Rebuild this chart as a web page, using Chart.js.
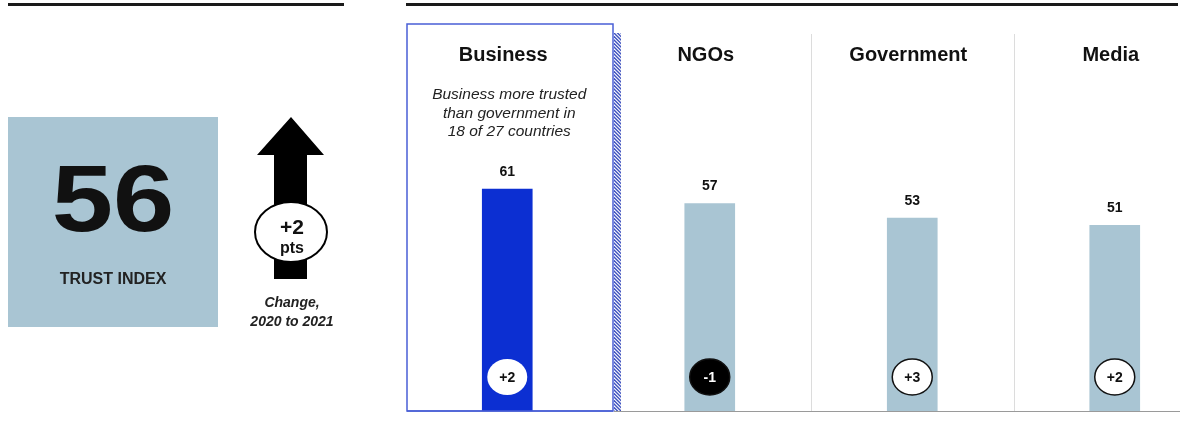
<!DOCTYPE html>
<html>
<head>
<meta charset="utf-8">
<script src="https://cdn.jsdelivr.net/npm/chart.js@4"></script>
<style>
  html, body { margin: 0; padding: 0; background: #fff; overflow: hidden; }
  #wrap { width: 1230px; height: 427px; }
</style>
</head>
<body>
<div id="wrap"><canvas id="trustChart" width="1230" height="427"></canvas></div>
<script>
const institutions = ["Business", "NGOs", "Government", "Media"];
const trustScores = [61, 57, 53, 51];
const changes = [2, -1, 3, 2];
const trustIndex = 56;
const indexChange = 2;
const noteLines = ["Business more trusted", "than government in", "18 of 27 countries"];
const changeCaption = ["Change,", "2020 to 2021"];
const highlight = "Business";

const LIGHT_BLUE = "#a9c5d3";
const DARK_BLUE = "#0c2fd2";
const FONT = "'Liberation Sans', Arial, sans-serif";

const ctx = document.getElementById("trustChart").getContext("2d");

function signed(v) {
  return (v > 0 ? "+" : "") + v;
}

function ellipse(c, x, y, rx, ry) {
  c.beginPath();
  c.ellipse(x, y, rx, ry, 0, 0, Math.PI * 2);
}

// left block, header rules, panel frames and titles
const backdrop = {
  id: "backdrop",
  beforeDraw(chart) {
    const c = chart.ctx;
    const xs = chart.scales.x;
    const area = chart.chartArea;
    c.save();
    c.fillStyle = "#fff";
    c.fillRect(0, 0, chart.width, chart.height);

    // top rules
    c.fillStyle = "#1a1a1a";
    c.fillRect(8, 3, 336, 3);
    c.fillRect(406, 3, 772, 3);

    // trust index tile
    c.fillStyle = LIGHT_BLUE;
    c.fillRect(8, 117, 210, 210);
    c.fillStyle = "#111";
    c.textAlign = "center";
    c.textBaseline = "alphabetic";
    c.save();
    c.translate(113, 231);
    c.scale(1.16, 1);
    c.font = "bold 95px " + FONT;
    c.fillText(String(trustIndex), 0, 0);
    c.restore();
    c.font = "bold 16px " + FONT;
    c.fillStyle = "#222";
    c.fillText("TRUST INDEX", 113, 284);

    // change arrow
    c.fillStyle = "#000";
    c.beginPath();
    c.moveTo(291, 117);
    c.lineTo(324, 155);
    c.lineTo(307, 155);
    c.lineTo(307, 279);
    c.lineTo(274, 279);
    c.lineTo(274, 155);
    c.lineTo(257, 155);
    c.closePath();
    c.fill();
    ellipse(c, 291, 232, 36, 30);
    c.fillStyle = "#fff";
    c.fill();
    c.lineWidth = 2;
    c.strokeStyle = "#000";
    c.stroke();
    c.fillStyle = "#111";
    c.textBaseline = "middle";
    c.font = "bold 21px " + FONT;
    c.fillText(signed(indexChange), 292, 228);
    c.font = "bold 16px " + FONT;
    c.fillText("pts", 292, 249);
    c.font = "italic bold 14px " + FONT;
    c.fillStyle = "#222";
    changeCaption.forEach((t, i) => c.fillText(t, 292, 303 + i * 19));

    // panel separators
    c.strokeStyle = "#dcdcdc";
    c.lineWidth = 1;
    for (let i = 1; i < institutions.length; i++) {
      if (institutions[i - 1] === highlight) continue;
      const sx = Math.round((xs.getPixelForValue(i - 1) + xs.getPixelForValue(i)) / 2) + 0.5;
      c.beginPath();
      c.moveTo(sx, 34);
      c.lineTo(sx, area.bottom);
      c.stroke();
    }

    // highlighted panel frame with hatched edge
    const hi = institutions.indexOf(highlight);
    const hx = xs.getPixelForValue(hi);
    const left = 407, right = 613;
    c.strokeStyle = "#4a5fd6";
    c.lineWidth = 1.5;
    c.strokeRect(left, 24, right - left, area.bottom - 24);
    c.save();
    c.beginPath();
    c.rect(right + 1, 33, 7, area.bottom - 33);
    c.clip();
    c.strokeStyle = "#3f52bf";
    c.lineWidth = 1.4;
    for (let y = 25; y < area.bottom + 10; y += 3.5) {
      c.beginPath();
      c.moveTo(right, y);
      c.lineTo(right + 9, y + 9);
      c.stroke();
    }
    c.restore();

    // titles
    c.fillStyle = "#111";
    c.font = "bold 20px " + FONT;
    institutions.forEach((name, i) => {
      c.fillText(name, xs.getPixelForValue(i) - 4, 55);
    });

    // note under the highlighted title
    c.font = "italic 15.5px " + FONT;
    c.fillStyle = "#222";
    noteLines.forEach((t, i) => c.fillText(t, hx + 2, 95 + i * 18.5));
    c.restore();
  }
};

// baseline, value labels and change badges
const annotations = {
  id: "annotations",
  afterDatasetsDraw(chart) {
    const c = chart.ctx;
    const meta = chart.getDatasetMeta(0);
    const area = chart.chartArea;
    c.save();
    c.strokeStyle = "#9a9a9a";
    c.lineWidth = 1;
    c.beginPath();
    c.moveTo(614, area.bottom + 0.5);
    c.lineTo(1180, area.bottom + 0.5);
    c.stroke();
    c.strokeStyle = "#4a5fd6";
    c.lineWidth = 1.5;
    c.beginPath();
    c.moveTo(407, area.bottom);
    c.lineTo(613, area.bottom);
    c.stroke();

    c.textAlign = "center";
    c.textBaseline = "middle";
    meta.data.forEach((bar, i) => {
      c.fillStyle = "#111";
      c.font = "bold 14px " + FONT;
      c.fillText(String(trustScores[i]), bar.x, bar.y - 17);

      const cy = area.bottom - 34;
      ellipse(c, bar.x, cy, 20, 18);
      const neg = changes[i] < 0;
      c.fillStyle = neg ? "#000" : "#fff";
      c.fill();
      if (institutions[i] !== highlight) {
        c.strokeStyle = "#111";
        c.lineWidth = 1.5;
        c.stroke();
      }
      c.fillStyle = neg ? "#fff" : "#111";
      c.font = "bold 14px " + FONT;
      c.fillText(signed(changes[i]), bar.x, cy + 1);
    });
    c.restore();
  }
};

const myChart = new Chart(ctx, {
  type: "bar",
  data: {
    labels: institutions,
    datasets: [{
      data: trustScores,
      backgroundColor: institutions.map(n => n === highlight ? DARK_BLUE : LIGHT_BLUE),
      borderWidth: 0,
      barThickness: 50
    }]
  },
  options: {
    responsive: false,
    animation: false,
    layout: { padding: { left: 406, right: 14, top: 47, bottom: 16 } },
    plugins: { legend: { display: false }, tooltip: { enabled: false } },
    scales: {
      x: { display: false },
      y: { display: false, min: 0, max: 100 }
    }
  },
  plugins: [backdrop, annotations]
});
</script>
</body>
</html>
